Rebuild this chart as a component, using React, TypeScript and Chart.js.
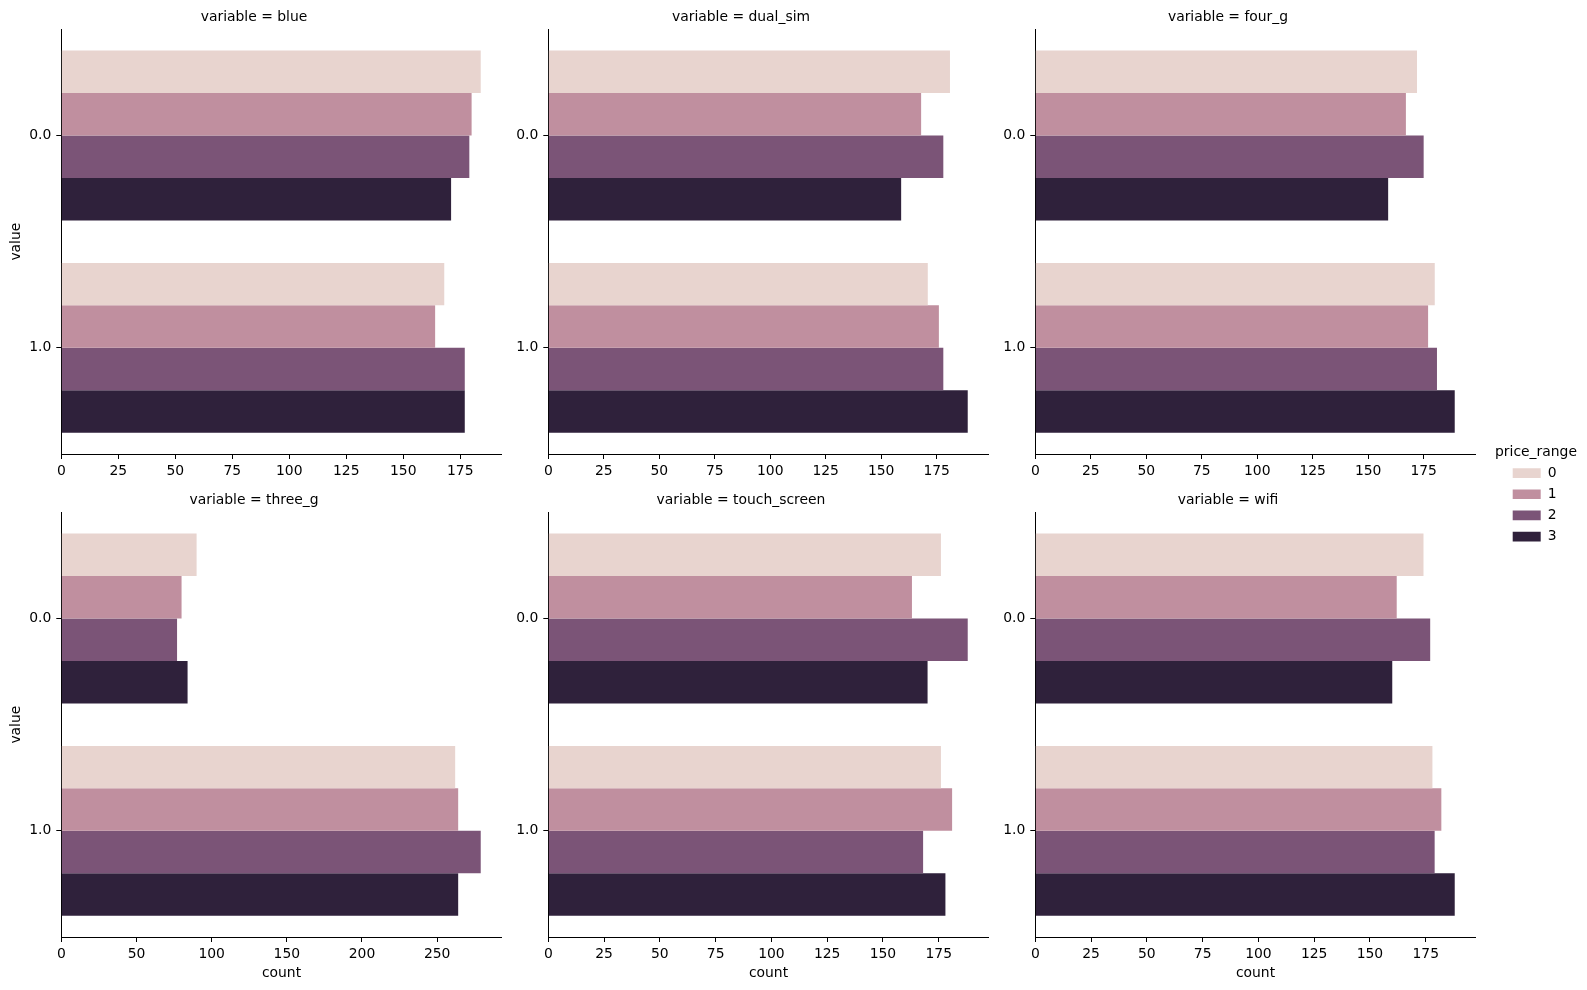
import React, { useEffect, useRef } from 'react';
import { Chart, registerables } from 'chart.js';

Chart.register(...registerables);

// ---------- data ----------
const VARIABLES = ['blue', 'dual_sim', 'four_g', 'three_g', 'touch_screen', 'wifi'];
const VALUE_LABELS = ['0.0', '1.0'];
const PRICE_RANGES = ['0', '1', '2', '3'];
const PRICE_COLORS = ['#e8d4cf', '#c08f9f', '#7b5477', '#2f213b'];
const LEGEND_TITLE = 'price_range';

// counts[priceRange] = [count for value 0.0, count for value 1.0]
const BLUE = [[184, 168], [180, 164], [179, 177], [171, 177]];
const DUAL_SIM = [[181, 171], [168, 176], [178, 178], [159, 189]];
const FOUR_G = [[172, 180], [167, 177], [175, 181], [159, 189]];
const THREE_G = [[90, 262], [80, 264], [77, 279], [84, 264]];
const TOUCH_SCREEN = [[176, 176], [163, 181], [188, 168], [170, 178]];
const WIFI = [[174, 178], [162, 182], [177, 179], [160, 188]];
const COUNTS = [BLUE, DUAL_SIM, FOUR_G, THREE_G, TOUCH_SCREEN, WIFI];
const TICK_STEPS = [25, 25, 25, 50, 25, 25];

// ---------- style / layout ----------
const FONT = "'DejaVu Sans', sans-serif";
const FS = 13.9;
const PLOT_W = 440.4;
const PLOT_H = 424.7;
const COL_X = [61.3, 548.3, 1035.3];
const ROW_Y = [29.3, 512.3];
const Y_AXIS_W = 55;
const TITLE_PAD_B = 3.6;
const TITLE_BLOCK = FS * 1.2 + TITLE_PAD_B;

function Panel({ idx }: { idx: number }) {
  const ref = useRef<HTMLCanvasElement>(null);
  const col = idx % 3;
  const row = Math.floor(idx / 3);
  const plotL = COL_X[col];
  const plotT = ROW_Y[row];
  const canvasL = Math.floor(plotL) - Y_AXIS_W;
  const canvasT = row === 0 ? 3 : 486;
  const xAxisH = row === 0 ? 30 : 48;
  const canvasW = 510;
  const canvasH = row === 0 ? 481 : 500;
  const padL = plotL - Y_AXIS_W - canvasL;
  const padR = canvasW - (plotL + PLOT_W - canvasL);
  const padT = plotT - canvasT - TITLE_BLOCK;
  const padB = canvasH - (plotT + PLOT_H - canvasT) - xAxisH;

  useEffect(() => {
    if (!ref.current) return;
    const counts = COUNTS[idx];
    const maxVal = Math.max(...counts.flat());
    const font = { family: FONT, size: FS, weight: 'normal' as const };
    const chart = new Chart(ref.current, {
      type: 'bar',
      data: {
        labels: VALUE_LABELS,
        datasets: PRICE_RANGES.map((pr, i) => ({
          label: pr,
          data: counts[i],
          backgroundColor: PRICE_COLORS[i],
          borderWidth: 0,
          categoryPercentage: 0.8,
          barPercentage: 1.0,
        })),
      },
      options: {
        indexAxis: 'y',
        animation: false,
        responsive: false,
        events: [],
        layout: {
          autoPadding: false,
          padding: { left: padL, right: padR, top: padT, bottom: padB },
        },
        plugins: {
          legend: { display: false },
          tooltip: { enabled: false },
          title: {
            display: true,
            text: `variable = ${VARIABLES[idx]}`,
            color: '#000',
            font: { family: FONT, size: FS, weight: 'normal', lineHeight: 1.2 },
            padding: { top: 0, bottom: TITLE_PAD_B },
          },
        },
        scales: {
          x: {
            type: 'linear',
            min: 0,
            max: maxVal * 1.05,
            ticks: {
              stepSize: TICK_STEPS[idx],
              includeBounds: false,
              color: '#000',
              font,
              padding: 4,
              maxRotation: 0,
              autoSkip: false,
            },
            grid: {
              display: true,
              drawOnChartArea: false,
              drawTicks: true,
              tickLength: 5,
              color: '#000',
              lineWidth: 1,
            },
            border: { display: true, color: '#000', width: 1 },
            title: {
              display: row === 1,
              text: 'count',
              color: '#000',
              font: { family: FONT, size: FS, weight: 'normal', lineHeight: 1.2 },
              padding: { top: 0, bottom: 3.6 },
            },
            afterFit: (s: any) => {
              s.height = xAxisH;
            },
          },
          y: {
            type: 'category',
            offset: true,
            ticks: { color: '#000', font, padding: 5 },
            grid: {
              display: true,
              drawOnChartArea: false,
              drawTicks: true,
              tickLength: 5,
              color: '#000',
              lineWidth: 1,
              offset: false,
            },
            border: { display: true, color: '#000', width: 1 },
            title: {
              display: col === 0,
              text: 'value',
              color: '#000',
              font: { family: FONT, size: FS, weight: 'normal', lineHeight: 1.2 },
              padding: { top: 1.56, bottom: 0 },
            },
            afterFit: (s: any) => {
              s.width = Y_AXIS_W;
            },
          },
        },
      } as any,
    });
    return () => chart.destroy();
  }, [idx]);

  return (
    <canvas
      ref={ref}
      width={canvasW}
      height={canvasH}
      style={{ position: 'absolute', left: canvasL, top: canvasT, width: canvasW, height: canvasH }}
    />
  );
}

// draws the legend heading above the legend items, relative to the legend box
const legendTitlePlugin = {
  id: 'legendHeading',
  afterDraw(chart: any) {
    const lg = chart.legend;
    if (!lg) return;
    const ctx = chart.ctx;
    ctx.save();
    ctx.font = `normal ${FS}px ${FONT}`;
    ctx.fillStyle = '#000';
    ctx.textAlign = 'center';
    ctx.textBaseline = 'middle';
    ctx.fillText(LEGEND_TITLE, lg.left + 7.3 + 23.3, lg.top - 6.1);
    ctx.restore();
  },
};

function LegendBox() {
  const ref = useRef<HTMLCanvasElement>(null);
  const canvasL = 1490;
  const canvasT = 440;
  const canvasW = 150;
  const canvasH = 120;
  useEffect(() => {
    if (!ref.current) return;
    const chart = new Chart(ref.current, {
      type: 'bar',
      data: {
        labels: [],
        datasets: PRICE_RANGES.map((pr, i) => ({
          label: pr,
          data: [],
          backgroundColor: PRICE_COLORS[i],
          borderWidth: 0,
        })),
      },
      options: {
        animation: false,
        responsive: false,
        events: [],
        layout: { autoPadding: false, padding: { left: 15.4, top: 18.8, right: 0, bottom: 0 } },
        scales: { x: { display: false }, y: { display: false } },
        plugins: {
          tooltip: { enabled: false },
          legend: {
            display: true,
            position: 'left',
            align: 'start',
            labels: {
              boxWidth: 28,
              boxHeight: 9.7,
              padding: 7.3,
              color: '#000',
              font: { family: FONT, size: FS, weight: 'normal' },
            },
          },
        },
      } as any,
      plugins: [legendTitlePlugin],
    });
    return () => chart.destroy();
  }, []);
  return (
    <canvas
      ref={ref}
      width={canvasW}
      height={canvasH}
      style={{ position: 'absolute', left: canvasL, top: canvasT, width: canvasW, height: canvasH }}
    />
  );
}

export default function App() {
  return (
    <div
      style={{
        position: 'absolute',
        left: 0,
        top: 0,
        width: 1587,
        height: 990,
        overflow: 'hidden',
        background: '#fff',
      }}
    >
      {VARIABLES.map((v, i) => (
        <Panel key={v} idx={i} />
      ))}
      <LegendBox />
    </div>
  );
}
